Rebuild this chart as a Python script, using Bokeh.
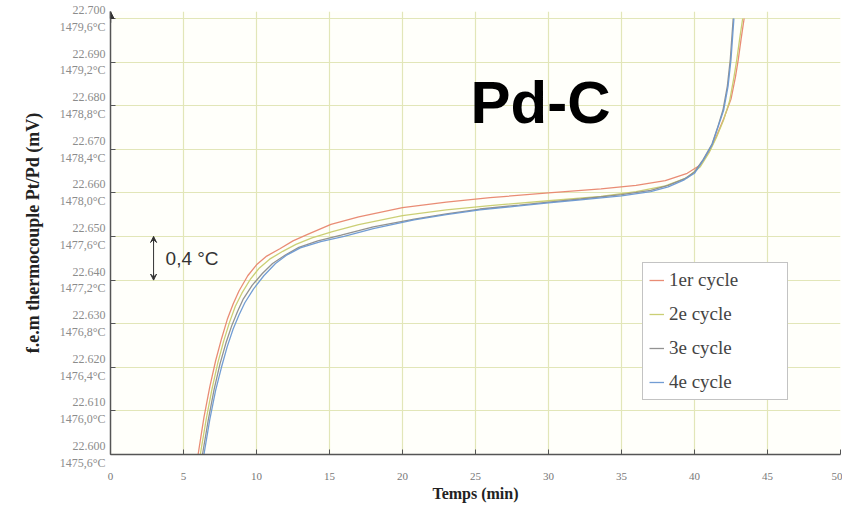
from bokeh.plotting import figure
from bokeh.models import Label, Arrow, VeeHead, NormalHead, FixedTicker, Legend
from bokeh.embed import file_html
from bokeh.resources import INLINE

# ---- data ----
t1 = [6.0, 6.4, 6.8, 7.2, 7.6, 8.0, 8.4, 8.8, 9.4, 10.0, 10.7, 11.6, 12.5, 13.5, 15.1, 17.0, 20.0, 23.0,
      26.0, 30.0, 33.6, 36.0, 38.0, 39.5, 40.4, 41.0, 41.5, 42.0, 42.5, 42.8, 43.0, 43.2, 43.4]
v1 = [22.600, 22.6085, 22.6155, 22.6215, 22.6265, 22.6310, 22.6345, 22.6375, 22.6410, 22.6435, 22.6455,
      22.6472, 22.6490, 22.6505, 22.6528, 22.6545, 22.6566, 22.6579, 22.6589, 22.6600, 22.6609, 22.6617,
      22.6628, 22.6645, 22.6664, 22.6695, 22.6730, 22.6770, 22.6815, 22.6865, 22.6906, 22.6955, 22.7000]

t2 = [6.15, 6.55, 6.95, 7.35, 7.75, 8.15, 8.55, 9.0, 9.6, 10.2, 10.9, 11.8, 12.7, 13.8, 15.2, 17.0, 20.0,
      23.0, 26.0, 30.0, 33.6, 36.0, 38.0, 39.5, 40.4, 41.0, 41.5, 42.0, 42.4, 42.7, 42.9, 43.1, 43.3]
v2 = [22.600, 22.6080, 22.6150, 22.6210, 22.6260, 22.6303, 22.6340, 22.6370, 22.6403, 22.6428, 22.6448,
      22.6466, 22.6482, 22.6497, 22.6511, 22.6527, 22.6548, 22.6561, 22.6571, 22.6582, 22.6592, 22.6603,
      22.6616, 22.6635, 22.6660, 22.6692, 22.6727, 22.6768, 22.6810, 22.6865, 22.6906, 22.6955, 22.7000]

t3 = [6.3, 6.7, 7.1, 7.5, 7.9, 8.3, 8.7, 9.1, 9.7, 10.4, 11.1, 12.0, 12.9, 14.2, 15.8, 18.0, 20.8, 23.0,
      25.3, 28.0, 30.0, 32.2, 35.0, 37.0, 38.2, 39.3, 40.0, 40.6, 41.2, 41.6, 41.95, 42.25, 42.45, 42.65]
v3 = [22.600, 22.6080, 22.6150, 22.6208, 22.6255, 22.6295, 22.6328, 22.6357, 22.6388, 22.6415, 22.6438,
      22.6458, 22.6475, 22.6490, 22.6503, 22.6522, 22.6540, 22.6552, 22.6563, 22.6572, 22.6579, 22.6586,
      22.6596, 22.6606, 22.6617, 22.6632, 22.6648, 22.6677, 22.6712, 22.6752, 22.6790, 22.6845, 22.6906,
      22.7000]

t4 = [6.4, 6.8, 7.2, 7.6, 8.0, 8.4, 8.8, 9.2, 9.8, 10.5, 11.3, 12.1, 13.0, 14.4, 16.0, 18.0, 20.8, 23.0,
      25.3, 28.0, 30.0, 32.2, 35.0, 37.0, 38.2, 39.3, 40.0, 40.6, 41.2, 41.6, 42.0, 42.3, 42.5, 42.7]
v4 = [22.600, 22.6080, 22.6147, 22.6200, 22.6248, 22.6288, 22.6320, 22.6348, 22.6380, 22.6410, 22.6438,
      22.6458, 22.6474, 22.6488, 22.6500, 22.6518, 22.6538, 22.6550, 22.6561, 22.6570, 22.6577, 22.6584,
      22.6593, 22.6603, 22.6614, 22.6630, 22.6645, 22.6675, 22.6710, 22.6750, 22.6790, 22.6845, 22.6906,
      22.7000]

series_names = ["1er cycle", "2e cycle", "3e cycle", "4e cycle"]
series_colors = ["#e8866e", "#c8cc6e", "#8c8c8c", "#6a98d2"]

y_ticks = [22.600, 22.610, 22.620, 22.630, 22.640, 22.650, 22.660, 22.670, 22.680, 22.690, 22.700]
y_tick_labels = ["22.600", "22.610", "22.620", "22.630", "22.640", "22.650",
                 "22.660", "22.670", "22.680", "22.690", "22.700"]
temp_labels = ["1475,6°C", "1476,0°C", "1476,4°C", "1476,8°C", "1477,2°C", "1477,6°C",
               "1478,0°C", "1478,4°C", "1478,8°C", "1479,2°C", "1479,6°C"]
x_ticks = [0, 5, 10, 15, 20, 25, 30, 35, 40, 45, 50]

title_text = "Pd-C"
delta_text = "0,4 °C"
delta_from, delta_to, delta_x = 22.640, 22.650, 2.95

p = figure(width=842, height=507, x_range=(0, 50), y_range=(22.600, 22.7016),
           output_backend="svg", toolbar_location=None,
           min_border_left=110, min_border_right=2, min_border_top=11, min_border_bottom=53,
           background_fill_color="#fffffa", border_fill_color="white")
p.outline_line_color = None

# grid
p.xgrid.ticker = FixedTicker(ticks=x_ticks)
p.ygrid.ticker = FixedTicker(ticks=y_ticks)
p.grid.grid_line_color = "#e2e6b8"
p.grid.grid_line_width = 1.2

# x axis
p.xaxis.ticker = FixedTicker(ticks=x_ticks)
p.xaxis.axis_line_color = "#555555"
p.xaxis.axis_line_width = 1.5
p.xaxis.major_tick_in = 5
p.xaxis.major_tick_out = 0
p.xaxis.major_tick_line_color = "#555555"
p.xaxis.minor_tick_line_color = None
p.xaxis.major_label_standoff = 18
p.xaxis.major_label_text_font = "Liberation Serif"
p.xaxis.major_label_text_font_size = "11px"
p.xaxis.major_label_text_color = "#777777"
p.xaxis.axis_label = "Temps (min)"
p.xaxis.axis_label_text_font = "Liberation Serif"
p.xaxis.axis_label_text_font_style = "bold"
p.xaxis.axis_label_text_font_size = "16px"
p.xaxis.axis_label_text_color = "#222222"
p.xaxis.axis_label_standoff = 2

# y axis with two-line labels (mV value above, temperature below)
p.yaxis.ticker = FixedTicker(ticks=y_ticks)
p.yaxis.axis_line_color = "#555555"
p.yaxis.axis_line_width = 1.5
p.yaxis.major_tick_in = 5
p.yaxis.major_tick_out = 0
p.yaxis.major_tick_line_color = "#555555"
p.yaxis.minor_tick_line_color = None
p.yaxis.major_label_overrides = {yv: f"{lab}\n{tl}" for yv, lab, tl in zip(y_ticks, y_tick_labels, temp_labels)}
p.yaxis.major_label_standoff = 5
p.yaxis.major_label_text_font = "Liberation Serif"
p.yaxis.major_label_text_font_size = "12px"
p.yaxis.major_label_text_color = "#8c8c8c"
p.yaxis.axis_label = "f.e.m thermocouple Pt/Pd (mV)"
p.yaxis.axis_label_text_font = "Liberation Serif"
p.yaxis.axis_label_text_font_style = "bold"
p.yaxis.axis_label_text_font_size = "18px"
p.yaxis.axis_label_text_color = "#222222"
p.yaxis.axis_label_standoff = 14

# axis arrow at the top
p.add_layout(Arrow(x_start=0, y_start=22.699, x_end=0, y_end=22.7016,
                   line_color="#555555", line_width=1.5,
                   end=NormalHead(size=7, fill_color="#333333", line_color="#333333")))

# series
renderers = []
for tt, vv, name, col in zip([t1, t2, t3, t4], [v1, v2, v3, v4], series_names, series_colors):
    r = p.line(tt, vv, line_color=col, line_width=1.3, line_alpha=0.95)
    renderers.append((name, [r]))

legend = Legend(items=renderers, location=(532, 54))
legend.border_line_color = "#888888"
legend.border_line_width = 1
legend.background_fill_color = "white"
legend.background_fill_alpha = 1
legend.label_text_font = "Liberation Serif"
legend.label_text_font_size = "19px"
legend.label_text_color = "#444444"
legend.glyph_width = 15
legend.glyph_height = 20
legend.label_height = 20
legend.label_width = 112
legend.spacing = 12
legend.padding = 6
legend.margin = 0
legend.label_standoff = 5
p.add_layout(legend)

# title text and delta annotation
p.add_layout(Label(x=24.66, y=22.6807, text=title_text, text_align="left", text_baseline="alphabetic",
                   text_font="Liberation Sans", text_font_style="bold", text_font_size="60px",
                   text_color="#000000"))
p.add_layout(Arrow(x_start=delta_x, y_start=delta_from + 0.0015, x_end=delta_x, y_end=delta_from,
                   line_color="#333333", line_width=1,
                   end=VeeHead(size=6, fill_color="#333333", line_color="#333333")))
p.add_layout(Arrow(x_start=delta_x, y_start=delta_to - 0.0015, x_end=delta_x, y_end=delta_to,
                   line_color="#333333", line_width=1,
                   end=VeeHead(size=6, fill_color="#333333", line_color="#333333")))
p.add_layout(Arrow(x_start=delta_x, y_start=delta_from, x_end=delta_x, y_end=delta_to,
                   line_color="#333333", line_width=1, end=None))
p.add_layout(Label(x=delta_x, y=(delta_from + delta_to) / 2, text=delta_text, x_offset=12,
                   text_align="left", text_baseline="middle",
                   text_font="Liberation Sans", text_font_size="19px", text_color="#333333"))

open("out.html", "w").write(file_html(p, INLINE))
